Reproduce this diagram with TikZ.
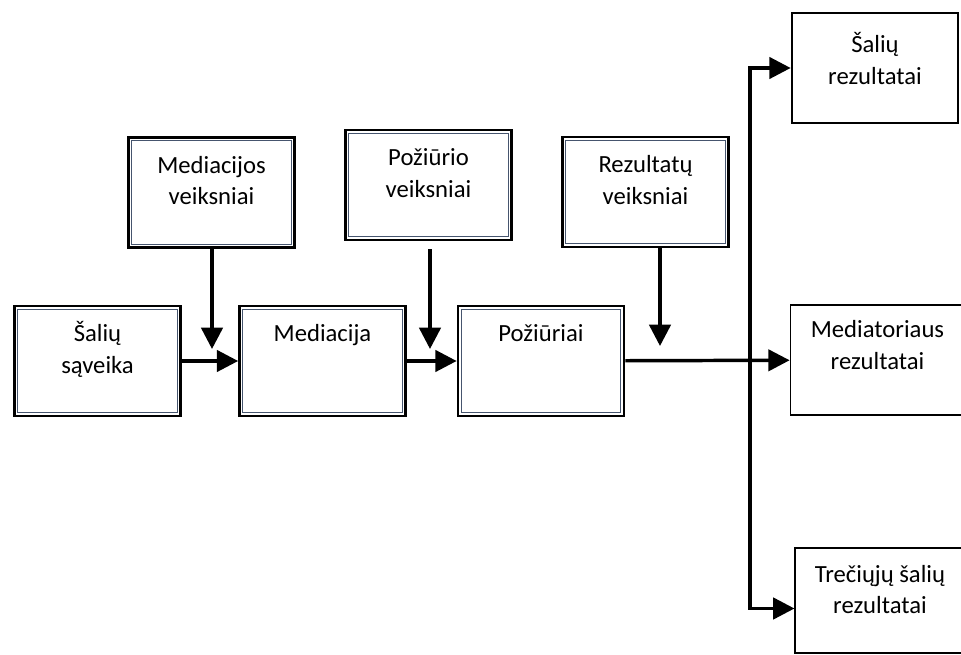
\documentclass[tikz,border=0pt]{standalone}
\usepackage{fontspec}
\setmainfont{Carlito}
\usepackage{tikz}
\usetikzlibrary{arrows.meta,positioning,calc}
\definecolor{inkline}{RGB}{70,85,110}

\begin{document}
\begin{tikzpicture}[
  x=0.75pt, y=-0.75pt,
  box/.style={draw=black, line width=2pt, fill=white,
              minimum width=124.5pt, minimum height=82.5pt, inner sep=0pt,
              path picture={\draw[inkline, line width=0.6pt]
                ([shift={(2.4pt,-2.4pt)}]path picture bounding box.north west) rectangle
                ([shift={(-2.4pt,2.4pt)}]path picture bounding box.south east);}},
  plainbox/.style={draw=black, line width=2pt, fill=white,
              minimum width=124.5pt, minimum height=82.5pt, inner sep=0pt},
  thinbox/.style={draw=black, line width=0.8pt, fill=white,
              minimum width=124.5pt, minimum height=82.5pt, inner sep=0pt},
  txt/.style={anchor=north, align=center, inner sep=0pt, yshift=-11.3pt,
              font=\fontsize{18.5}{23.5}\selectfont},
  arr/.style={-{Triangle[length=16pt, width=16pt]}, line width=2.6pt}
]
\useasboundingbox (0,0) rectangle (961,655);

\node[box, label={[txt]north:{\strut Šalių\\sąveika}}] (salys) at (97.5,361) {};
\node[box, label={[txt]north:{\strut Mediacijos\\veiksniai}}] (medfac) at (211.5,192.5) {};
\node[box, label={[txt]north:{\strut Mediacija}}] (med) at (322.5,361) {};
\node[box, label={[txt]north:{\strut Požiūrio\\veiksniai}}] (pozfac) at (428.5,185) {};
\node[box, label={[txt]north:{\strut Požiūriai}}] (poz) at (541,361) {};
\node[box, label={[txt]north:{\strut Rezultatų\\veiksniai}}] (rezfac) at (645.5,192) {};

\node[plainbox, label={[txt, yshift=-3pt]north:{\strut Šalių\\rezultatai}}] (salrez) at (875,68) {};
\node[thinbox, minimum width=131pt, label={[txt, yshift=3pt]north:{\strut Mediatoriaus\\rezultatai}}] (medrez) at (877.5,360) {};
\node[thinbox, minimum width=127.5pt, minimum height=78.75pt,
      label={[txt, yshift=2pt]north:{\strut Trečiųjų šalių\\rezultatai}}] (trerez) at (880,600.5) {};

% ends of the factor arrows
\coordinate (tipmed) at (212,349);
\coordinate (tippoz) at (430,349);
\coordinate (tiprez) at (660,346);
\coordinate (split) at (750,361);

\draw[arr] (salys) -- (med);
\draw[arr] (med) -- (poz);
\draw[arr] (poz) -- (medrez);
\draw[arr] (medfac.south -| tipmed) -- (tipmed);
\draw[arr] ($(pozfac.south -| tippoz)+(0,8)$) -- (tippoz);
\draw[arr] (rezfac.south -| tiprez) -- (tiprez);
\draw[arr] (split) |- (salrez);
\draw[arr] (split) |- ([yshift=-6pt]trerez.west);
\end{tikzpicture}
\end{document}
